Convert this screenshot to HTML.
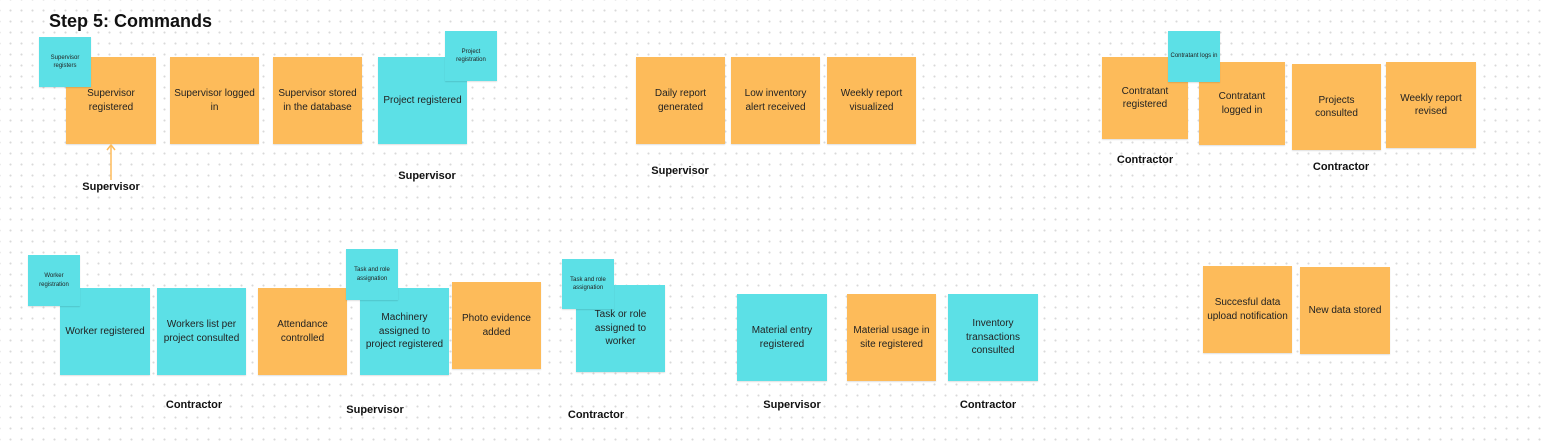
<!DOCTYPE html>
<html><head><meta charset="utf-8"><style>
html,body{margin:0;padding:0;}
body{width:1542px;height:443px;position:relative;overflow:hidden;background:#fff;
background-image:radial-gradient(circle,#d9d9d9 0.9px,transparent 1.2px);background-size:11px 11px;background-position:5px 5px;
font-family:"Liberation Sans",sans-serif;}
.n{position:absolute;display:flex;align-items:center;justify-content:center;text-align:center;color:#222;font-size:10px;line-height:1.35;box-sizing:border-box;padding:4px;box-shadow:0 1px 1px rgba(0,0,0,0.12);}
.o{background:#fdbb5a;}
.c{background:#5ce0e6;}
.s{font-size:6px;line-height:1.4;padding:2px;}
.l{position:absolute;font-weight:bold;font-size:11px;color:#111;white-space:nowrap;transform:translate(-50%,-50%);}
</style></head><body>
<div style="position:absolute;left:49px;top:11px;font-weight:bold;font-size:18px;color:#111;">Step 5: Commands</div>

<div class="n o" style="left:66px;top:57px;width:90px;height:87px;">Supervisor<br>registered</div>
<div class="n c s" style="left:39px;top:37px;width:52px;height:50px;">Supervisor registers</div>
<div class="n o" style="left:170px;top:57px;width:89px;height:87px;">Supervisor logged in</div>
<div class="n o" style="left:273px;top:57px;width:89px;height:87px;">Supervisor stored in the database</div>
<div class="n c" style="left:378px;top:57px;width:89px;height:87px;">Project registered</div>
<div class="n c s" style="left:445px;top:31px;width:52px;height:50px;">Project registration</div>
<svg style="position:absolute;left:104px;top:142px" width="14" height="40"><line x1="7" y1="3" x2="7" y2="38" stroke="#fdbb5a" stroke-width="1.5"/><polyline points="3,8 7,3 11,8" fill="none" stroke="#fdbb5a" stroke-width="1.5"/></svg>
<div class="l" style="left:111px;top:187px;">Supervisor</div>
<div class="l" style="left:427px;top:176px;">Supervisor</div>

<div class="n o" style="left:636px;top:57px;width:89px;height:87px;">Daily report generated</div>
<div class="n o" style="left:731px;top:57px;width:89px;height:87px;">Low inventory alert received</div>
<div class="n o" style="left:827px;top:57px;width:89px;height:87px;">Weekly report visualized</div>
<div class="l" style="left:680px;top:171px;">Supervisor</div>

<div class="n o" style="left:1102px;top:57px;width:86px;height:82px;">Contratant registered</div>
<div class="n o" style="left:1199px;top:62px;width:86px;height:83px;">Contratant logged in</div>
<div class="n c s" style="left:1168px;top:31px;width:52px;height:51px;">Contratant logs in</div>
<div class="n o" style="left:1292px;top:64px;width:89px;height:86px;">Projects consulted</div>
<div class="n o" style="left:1386px;top:62px;width:90px;height:86px;">Weekly report revised</div>
<div class="l" style="left:1145px;top:160px;">Contractor</div>
<div class="l" style="left:1341px;top:167px;">Contractor</div>

<div class="n c" style="left:60px;top:288px;width:90px;height:87px;">Worker registered</div>
<div class="n c s" style="left:28px;top:255px;width:52px;height:51px;">Worker registration</div>
<div class="n c" style="left:157px;top:288px;width:89px;height:87px;">Workers list per project consulted</div>
<div class="n o" style="left:258px;top:288px;width:89px;height:87px;">Attendance controlled</div>
<div class="n c" style="left:360px;top:288px;width:89px;height:87px;">Machinery assigned to project registered</div>
<div class="n c s" style="left:346px;top:249px;width:52px;height:51px;">Task and role assignation</div>
<div class="n o" style="left:452px;top:282px;width:89px;height:87px;">Photo evidence added</div>
<div class="n c" style="left:576px;top:285px;width:89px;height:87px;">Task or role assigned to worker</div>
<div class="n c s" style="left:562px;top:259px;width:52px;height:50px;">Task and role assignation</div>
<div class="l" style="left:194px;top:405px;">Contractor</div>
<div class="l" style="left:375px;top:410px;">Supervisor</div>
<div class="l" style="left:596px;top:415px;">Contractor</div>

<div class="n c" style="left:737px;top:294px;width:90px;height:87px;">Material entry registered</div>
<div class="n o" style="left:847px;top:294px;width:89px;height:87px;">Material usage in site registered</div>
<div class="n c" style="left:948px;top:294px;width:90px;height:87px;">Inventory transactions consulted</div>
<div class="l" style="left:792px;top:405px;">Supervisor</div>
<div class="l" style="left:988px;top:405px;">Contractor</div>

<div class="n o" style="left:1203px;top:266px;width:89px;height:87px;">Succesful data upload notification</div>
<div class="n o" style="left:1300px;top:267px;width:90px;height:87px;">New data stored</div>
</body></html>
